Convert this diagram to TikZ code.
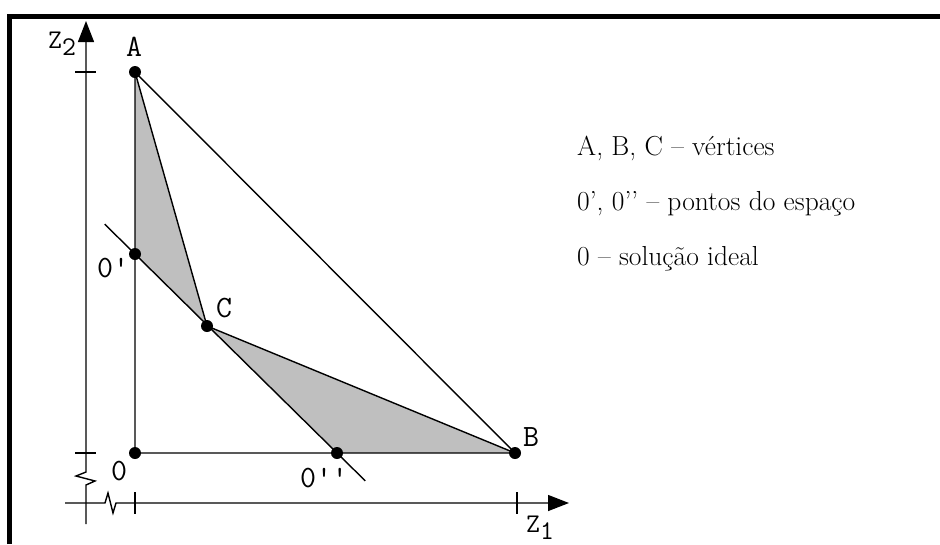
\documentclass[tikz,border=0pt]{standalone}
\usepackage{fontspec}
\usepackage{tikz}
\usetikzlibrary{arrows.meta, calc}
\newcommand{\subidx}[1]{\raisebox{-0.26em}{#1}}

\begin{document}
\begin{tikzpicture}[x=1pt, y=-1pt,
        thin line/.style={line width=1.4pt},
        axis/.style={line width=1.4pt},
        dot/.style={circle, fill, inner sep=0pt, minimum size=12pt},
        lbl/.style={font=\ttfamily\fontsize{31}{31}\selectfont, inner sep=0pt},
        axis lbl/.style={font=\ttfamily\fontsize{27}{27}\selectfont, inner sep=0pt, anchor=base west},
        legend/.style={font=\fontsize{27.5}{30}\selectfont, anchor=base west, inner sep=0pt}]
        \useasboundingbox (0,0) rectangle (940,544);
        % frame
        \draw[line width=5pt, line join=miter] (9.5,544) -- (9.5,16.5) -- (940,16.5);
        
        % points
        \coordinate (O)  at (135,453);
        \coordinate (A)  at (135,72);
        \coordinate (B)  at (515,453);
        \coordinate (C)  at (207,326);
        \coordinate (O1) at (135,254);
        \coordinate (O2) at (337,453);
        
        % gray region
        \fill[gray!50] (A) -- (C) -- (O1) -- cycle;
        \fill[gray!50] (C) -- (B) -- (O2) -- cycle;
        
        % axes
        \coordinate (z2top) at (86,21);
        \coordinate (z2bot) at (86,524);
        \coordinate (z1left) at (65,503);
        \coordinate (z1right) at (569,503);
        \draw[axis, -{Triangle[length=21pt, width=16pt]}]
            (z2bot) -- (86,485) -- (95,481) -- (76,476) -- (86,472) -- (z2top);
        \draw[axis, -{Triangle[length=21pt, width=16pt]}]
            (z1left) -- (105,503) -- (108,493) -- (113,513) -- (116,503) -- (z1right);
        \foreach \ty in {72,453}
            \draw[axis] (75,\ty) -- (96,\ty);
        \foreach \tx in {135,517}
            \draw[axis] (\tx,492) -- (\tx,514);
        
        % lines
        \draw[thin line] (A) -- (O) -- (B) -- cycle;
        \draw[thin line] (A) -- (C) -- (B);
        \draw[thin line] ($(O1)!-0.15!(O2)$) -- ($(O2)!-0.14!(O1)$);
        
        % dots
        \foreach \p in {O, A, B, C, O1, O2}
            \node[dot] (d\p) at (\p) {};
        
        % labels
        \node[lbl] (lA)  at (134,47)  {A};
        \node[lbl] (lB)  at (531,437) {B};
        \node[lbl] (lC)  at (224,308) {C};
        \node[lbl] (lO)  at (119,471) {0};
        \node[lbl] (lO1) at (113,268) {0'};
        \node[lbl] (lO2) at (324,478) {0''};
        \node[axis lbl] (lz2) at (48,48)   {Z\subidx{2}};
        \node[axis lbl] (lz1) at (526,532) {Z\subidx{1}};
        
        % legend
        \node[legend] (leg1) at (577,155) {A, B, C -- vértices};
        \node[legend] (leg2) at (577,210) {0’, 0’’ -- pontos do espaço};
        \node[legend] (leg3) at (577,265) {0 -- solução ideal};
    \end{tikzpicture}
\end{document}
